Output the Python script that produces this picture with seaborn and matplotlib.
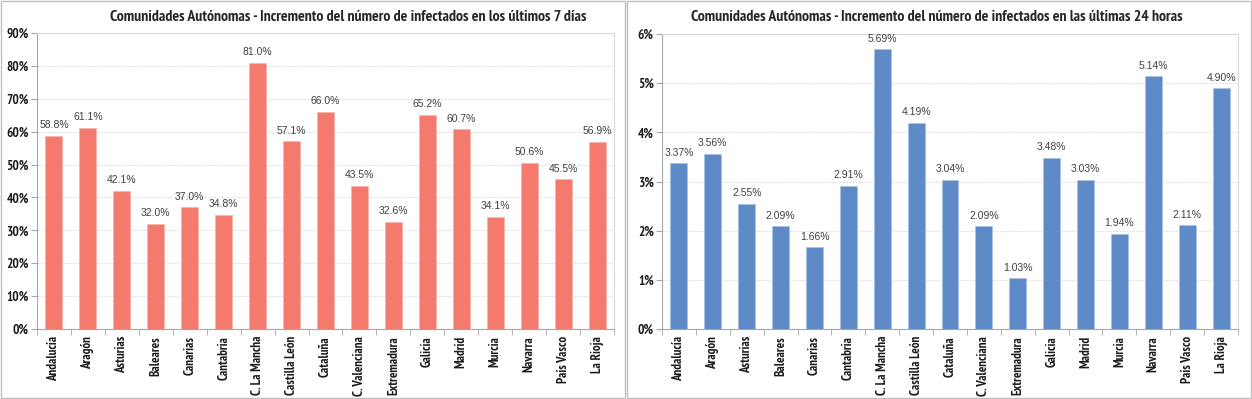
import matplotlib
matplotlib.use("Agg")
import matplotlib.pyplot as plt
import matplotlib.font_manager as fm
from matplotlib.ticker import FuncFormatter, FixedLocator
import numpy as np
import pandas as pd
import seaborn as sns

regions = ["Andalucía", "Aragón", "Asturias", "Baleares", "Canarias", "Cantabria",
           "C. La Mancha", "Castilla León", "Cataluña", "C. Valenciana", "Extremadura",
           "Galicia", "Madrid", "Murcia", "Navarra", "País Vasco", "La Rioja"]
inc_7d = [58.8, 61.1, 42.1, 32.0, 37.0, 34.8, 81.0, 57.1, 66.0, 43.5, 32.6,
          65.2, 60.7, 34.1, 50.6, 45.5, 56.9]
inc_24h = [3.37, 3.56, 2.55, 2.09, 1.66, 2.91, 5.69, 4.19, 3.04, 2.09, 1.03,
           3.48, 3.03, 1.94, 5.14, 2.11, 4.90]

sns.set_style("white")
plt.rcParams['font.family'] = ['Liberation Sans', 'DejaVu Sans']

# look for a condensed bold face (Arial Narrow look-alike)
cond = [f for f in fm.fontManager.ttflist
        if ("Narrow" in f.name or "Condensed" in f.name
            or f.stretch in ("condensed", "semi-condensed", "extra-condensed", 300, 400)
            or "Condensed" in f.fname or "Narrow" in f.fname)
        and f.weight in (700, "bold") and f.style == "normal"]
cond.sort(key=lambda f: ("Narrow" not in f.fname, f.fname))
if cond:
    bold_fp = fm.FontProperties(fname=cond[0].fname)
    scale = 1.0
else:
    bold_fp = fm.FontProperties(family="Liberation Sans", weight="bold")
    scale = 0.82

fig = plt.figure(figsize=(12.52, 3.99), dpi=100)

# panel frames
for x0, x1 in [(1, 625), (627, 1251)]:
    fig.patches.append(plt.Rectangle((x0 / 1252, 1 / 399), (x1 - x0) / 1252, 397 / 399,
                                     transform=fig.transFigure, fill=False,
                                     edgecolor="#bfbfbf", linewidth=1))

panels = [
    dict(vals=inc_7d, color="#F47A6E", edge="#F9B5AE", ymax=90, step=10, fmt="{:.1f}%",
         tick="{:.0f}%", left=37, right=614, top=33,
         title="Comunidades Autónomas - Incremento del número de infectados en los últimos 7 días",
         tx=348),
    dict(vals=inc_24h, color="#5E8BC8", edge="#A9C1E3", ymax=6, step=1, fmt="{:.2f}%",
         tick="{:.0f}%", left=662, right=1238, top=34,
         title="Comunidades Autónomas - Incremento del número de infectados en las últimas 24 horas",
         tx=937),
]

for p in panels:
    bottom = 329
    ax = fig.add_axes([p["left"] / 1252, (399 - bottom) / 399,
                       (p["right"] - p["left"]) / 1252, (bottom - p["top"]) / 399])
    df = pd.DataFrame({"region": regions, "value": p["vals"]})
    sns.barplot(data=df, x="region", y="value", color=p["color"], width=0.5,
                saturation=1, edgecolor=p["edge"], linewidth=0.6, ax=ax, zorder=3)
    ax.set_xlim(-0.5, len(regions) - 0.5)
    ax.set_ylim(0, p["ymax"])
    ax.set_yticks(np.arange(0, p["ymax"] + p["step"] / 2, p["step"]))
    ax.yaxis.set_major_formatter(FuncFormatter(lambda v, _, f=p["tick"]: f.format(v)))
    ax.grid(axis="y", color="#e3e3e3", linestyle=(0, (2, 1)), linewidth=0.8, zorder=0)
    ax.set_xlabel("")
    ax.set_ylabel("")
    for s in ["left", "bottom"]:
        ax.spines[s].set_color("#a6a6a6")
    for s in ["top", "right"]:
        ax.spines[s].set_color("#d9d9d9")
    ax.tick_params(axis="y", length=4, color="#a6a6a6", pad=2, left=True)
    ax.tick_params(axis="x", length=0, pad=5)
    ax.xaxis.set_minor_locator(FixedLocator(np.arange(-0.5, len(regions), 1)))
    ax.tick_params(axis="x", which="minor", length=4, color="#a6a6a6", bottom=True)
    for lab in ax.get_yticklabels():
        lab.set_fontproperties(bold_fp)
        lab.set_fontsize(9.5 * scale)
        lab.set_color("#1a1a1a")
    ax.set_xticks(range(len(regions)))
    ax.set_xticklabels(regions, rotation=90, va="top", ha="center")
    for lab in ax.get_xticklabels():
        lab.set_fontproperties(bold_fp)
        lab.set_fontsize(9.3 * scale)
        lab.set_color("#1a1a1a")
    for i, v in enumerate(p["vals"]):
        ax.annotate(p["fmt"].format(v), (i, v), xytext=(0, 4), textcoords="offset points",
                    ha="center", va="bottom", fontsize=7.5, color="#404040")
    t = fig.text(p["tx"] / 1252, 1 - 17 / 399, p["title"], ha="center", va="center")
    t.set_fontproperties(bold_fp)
    t.set_fontsize(11.3 if cond else 8.6)

fig.savefig("out.png", dpi=100)
